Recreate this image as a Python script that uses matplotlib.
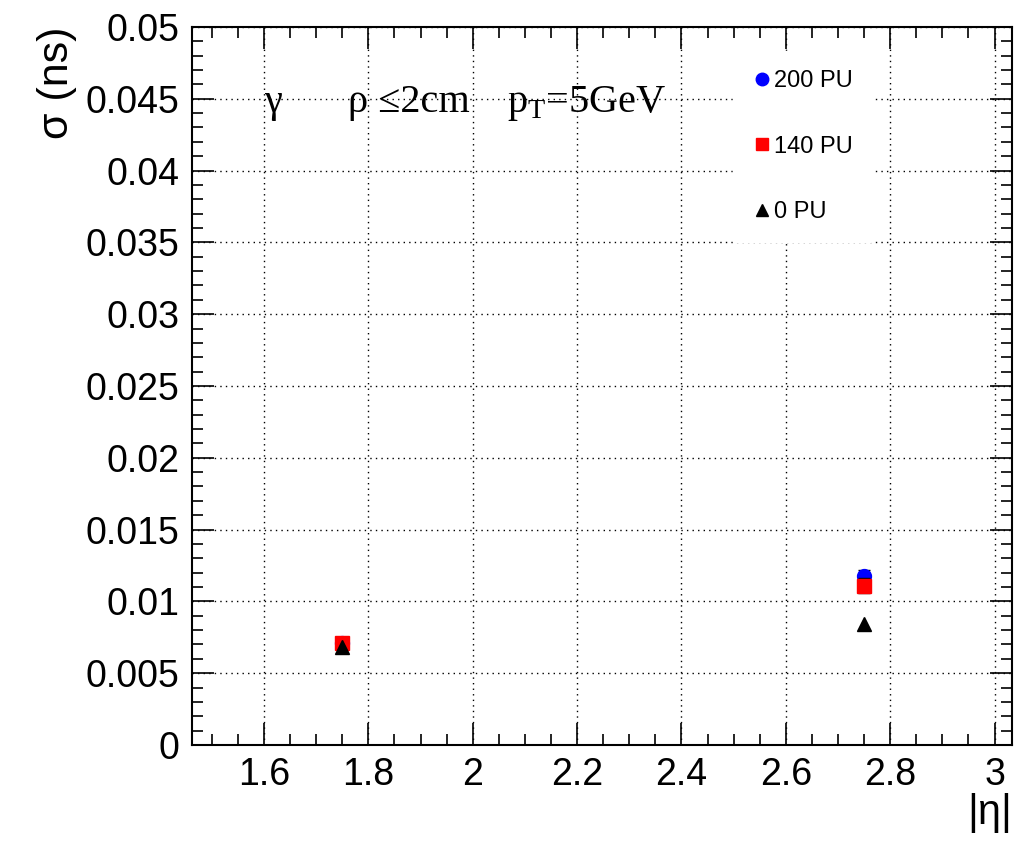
import numpy as np
import matplotlib.pyplot as plt
from matplotlib.lines import Line2D
from matplotlib.ticker import MultipleLocator

eta = [1.75, 2.75]
sigma_200 = [0.0071, 0.0118]
err_200 = [0.0002, 0.0004]
sigma_140 = [0.0071, 0.0111]
err_140 = [0.0002, 0.0005]
sigma_0 = [0.0068, 0.0084]
err_0 = [0.0001, 0.0001]

plt.rcParams['font.family'] = ['Liberation Sans', 'DejaVu Sans']

fig = plt.figure(figsize=(10.23, 8.43), dpi=100)
ax = fig.add_axes([0.1877, 0.1163, 0.8013, 0.8517])

ax.errorbar(eta, sigma_200, yerr=err_200, fmt='o', color='blue', ms=10,
            ecolor='black', elinewidth=1, capsize=4, zorder=3)
ax.errorbar(eta, sigma_140, yerr=err_140, fmt='s', color='red', ms=10,
            ecolor='black', elinewidth=1, capsize=4, zorder=4)
ax.errorbar(eta, sigma_0, yerr=err_0, fmt='^', color='black', ms=10,
            ecolor='black', elinewidth=1, capsize=0, zorder=5)

ax.set_xlim(1.462, 3.033)
ax.set_ylim(0, 0.05)
ax.xaxis.set_major_locator(MultipleLocator(0.2))
ax.xaxis.set_minor_locator(MultipleLocator(0.05))
ax.yaxis.set_major_locator(MultipleLocator(0.005))
ax.yaxis.set_minor_locator(MultipleLocator(0.001))
ax.xaxis.set_major_formatter(plt.FuncFormatter(lambda v, p: ('%g' % round(v, 3))))
ax.yaxis.set_major_formatter(plt.FuncFormatter(lambda v, p: ('%g' % round(v, 4))))

ax.tick_params(which='both', direction='in', top=True, right=True,
               labelsize=27, width=1.2)
ax.tick_params(which='major', length=16, pad=9)
ax.tick_params(which='minor', length=8)
for s in ax.spines.values():
    s.set_linewidth(1.5)

ax.grid(True, which='major', color='black', linestyle=(0, (1, 3)), linewidth=1)

ax.set_ylabel('σ (ns)', fontsize=31, loc='top', labelpad=6)
ax.set_xlabel('|η|', fontsize=30, loc='right', labelpad=0)

# header text (Times-like, as in ROOT)
ax.text(0.089, 0.882, 'γ', transform=ax.transAxes, fontsize=29,
        family='Liberation Serif', va='baseline')
ax.text(0.19, 0.882, 'ρ ≤2cm', transform=ax.transAxes, fontsize=29,
        family='Liberation Serif', va='baseline')
ax.text(0.384, 0.882, r'p$_\mathregular{T}$=5GeV', transform=ax.transAxes,
        fontsize=29, family='Liberation Serif', va='baseline')

handles = [Line2D([], [], ls='none', marker='o', color='blue', ms=10),
           Line2D([], [], ls='none', marker='s', color='red', ms=10),
           Line2D([], [], ls='none', marker='^', color='black', ms=10)]
labels = ['200 PU', '140 PU', '0 PU']
leg = ax.legend(handles, labels, loc='upper left', bbox_to_anchor=(0.646, 0.983),
                fontsize=17, frameon=True, fancybox=False, edgecolor='white',
                facecolor='white', framealpha=1, labelspacing=1.85,
                handlelength=0.8, handletextpad=0.1, borderpad=0.8,
                markerscale=0.9)

fig.savefig('out.png', dpi=100)
